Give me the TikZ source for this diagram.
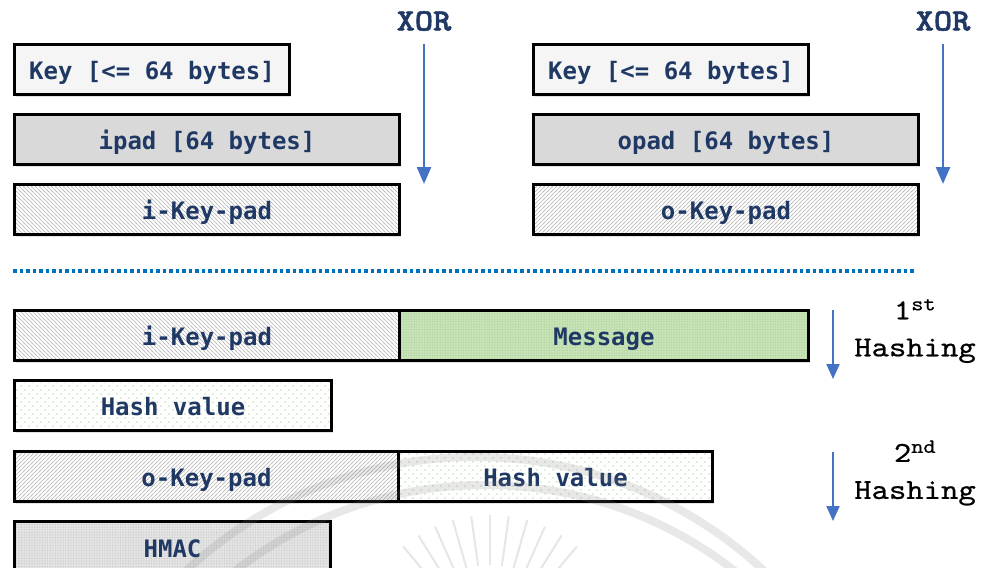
\documentclass[tikz,border=0pt]{standalone}
\usepackage{fontspec}
\usetikzlibrary{arrows.meta,shadows,patterns}
\newfontfamily\boxfont{DejaVu Sans Mono}
\newfontfamily\hashfont{lmmono10-regular.otf}[FakeStretch=1.14, FakeBold=0.6]
\newfontfamily\xorfont{lmmonolt10-bold.otf}[FakeStretch=1.12, FakeBold=1.8]
\definecolor{navy}{RGB}{31,56,100}
\definecolor{arrowblue}{RGB}{68,114,196}
\definecolor{sepblue}{RGB}{0,112,192}
\definecolor{msggreen}{RGB}{200,226,184}
\definecolor{dotgreen}{RGB}{120,190,90}
\definecolor{padgray}{RGB}{217,217,217}

% fill textures
\pgfdeclarepatternformonly{hatchne}{\pgfpoint{-1pt}{-1pt}}{\pgfpoint{5pt}{5pt}}{\pgfpoint{4pt}{4pt}}{%
  \pgfsetlinewidth{0.6pt}\pgfpathmoveto{\pgfpoint{-1pt}{-1pt}}\pgfpathlineto{\pgfpoint{5pt}{5pt}}\pgfusepath{stroke}}
\pgfdeclarepatternformonly{hatchnw}{\pgfpoint{-1pt}{-1pt}}{\pgfpoint{5pt}{5pt}}{\pgfpoint{4pt}{4pt}}{%
  \pgfsetlinewidth{0.6pt}\pgfpathmoveto{\pgfpoint{-1pt}{5pt}}\pgfpathlineto{\pgfpoint{5pt}{-1pt}}\pgfusepath{stroke}}
\pgfdeclarepatternformonly{densedots}{\pgfpoint{-1pt}{-1pt}}{\pgfpoint{3pt}{3pt}}{\pgfpoint{2.6pt}{2.6pt}}{%
  \pgfpathcircle{\pgfpoint{0.8pt}{0.8pt}}{0.55pt}\pgfusepath{fill}}
\pgfdeclarepatternformonly{sparsedots}{\pgfpoint{-1pt}{-1pt}}{\pgfpoint{9pt}{9pt}}{\pgfpoint{8pt}{8pt}}{%
  \pgfpathcircle{\pgfpoint{1pt}{1pt}}{0.6pt}\pgfpathcircle{\pgfpoint{5pt}{5pt}}{0.6pt}\pgfusepath{fill}}

\tikzset{
  blk/.style={draw=black, line width=3pt, inner sep=0pt, anchor=north west,
    text=navy, font=\boxfont\bfseries\fontsize{24}{28}\selectfont,
    text height=20pt, text depth=0pt,
    drop shadow={shadow xshift=1.5pt, shadow yshift=-2.5pt, opacity=0.22, fill=gray}},
  keyfill/.style={fill=gray!8},
  padfill/.style={fill=padgray},
  ikeyfill/.style={preaction={fill=white}, pattern=hatchnw, pattern color=gray!55},
  okeyfill/.style={preaction={fill=white}, pattern=hatchne, pattern color=gray!55},
  msgfill/.style={preaction={fill=msggreen}, pattern=densedots, pattern color=dotgreen!70!white},
  hashfill/.style={preaction={fill=white}, pattern=sparsedots, pattern color=dotgreen},
  macfill/.style={preaction={fill=gray!22}, pattern=densedots, pattern color=gray!50},
  xorarrow/.style={draw=arrowblue, line width=2.5pt, -{Triangle[length=17pt,width=14pt]}},
  xorlabel/.style={text=navy, font=\xorfont\fontsize{31}{34}\selectfont},
  hashlabel/.style={align=center, font=\hashfont\fontsize{29}{37}\selectfont},
  emblem/.style={draw=gray, line width=8pt, opacity=0.18},
}

\begin{document}
\begin{tikzpicture}[x=1pt, y=-1pt]
\useasboundingbox (0,0) rectangle (981,567);
\clip (0,0) rectangle (981,567);

% key preparation, inner pad
\node[blk, keyfill, minimum width=275pt, minimum height=50pt] (keyi) at (13,43) {Key [<= 64 bytes]};
\node[blk, padfill, minimum width=385pt, minimum height=50pt] (ipad) at (13,113) {ipad [64 bytes]};
\node[blk, ikeyfill, minimum width=385pt, minimum height=50pt] (ikey) at (13,183) {i-Key-pad};

% key preparation, outer pad
\node[blk, keyfill, minimum width=275pt, minimum height=50pt] (keyo) at (532,43) {Key [<= 64 bytes]};
\node[blk, padfill, minimum width=385pt, minimum height=50pt] (opad) at (532,113) {opad [64 bytes]};
\node[blk, okeyfill, minimum width=385pt, minimum height=50pt] (okey) at (532,183) {o-Key-pad};

% XOR markers
\node[xorlabel] (xori) at (424,21) {XOR};
\node[xorlabel] (xoro) at (943,21) {XOR};
\coordinate (xoriA) at (424,44);
\coordinate (xoriB) at (424,184);
\coordinate (xoroA) at (943,44);
\coordinate (xoroB) at (943,184);
\draw[xorarrow] (xoriA) -- (xoriB);
\draw[xorarrow] (xoroA) -- (xoroB);

% separator
\coordinate (sepA) at (13,271);
\coordinate (sepB) at (915,271);
\draw[sepblue, line width=3.5pt, dash pattern=on 3.5pt off 3pt] (sepA) -- (sepB);

% first hashing
\node[blk, ikeyfill, minimum width=385pt, minimum height=50pt] (ikey2) at (13,309) {i-Key-pad};
\node[blk, msgfill, minimum width=409pt, minimum height=50pt] (msg) at (398,309) {Message};
\node[blk, hashfill, minimum width=317pt, minimum height=50pt] (hash1) at (13,379) {Hash value};
\coordinate (h1A) at (833,310);
\coordinate (h1B) at (833,379);
\draw[xorarrow, line width=2.2pt, -{Triangle[length=15pt,width=13pt]}] (h1A) -- (h1B);
\node[hashlabel] (h1lab) at (915,331) {1\textsuperscript{st}\\Hashing};

% second hashing
\node[blk, okeyfill, minimum width=384pt, minimum height=50pt] (okey2) at (13,450) {o-Key-pad};
\node[blk, hashfill, minimum width=314pt, minimum height=50pt] (hash2) at (397,450) {Hash value};
\node[blk, macfill, minimum width=316pt, minimum height=52pt] (hmac) at (13,520) {HMAC};
\coordinate (h2A) at (833,452);
\coordinate (h2B) at (833,521);
\draw[xorarrow, line width=2.2pt, -{Triangle[length=15pt,width=13pt]}] (h2A) -- (h2B);
\node[hashlabel] (h2lab) at (915,473) {2\textsuperscript{nd}\\Hashing};

% faint emblem in the background
\draw[emblem] (475,881) circle[radius=424];
\draw[emblem] (485,891) circle[radius=406];
\foreach \a in {50,58,...,130}
  \draw[gray, line width=2pt, opacity=0.2] (490,650) ++(-\a:85) -- ++(-\a:50);
\end{tikzpicture}
\end{document}
